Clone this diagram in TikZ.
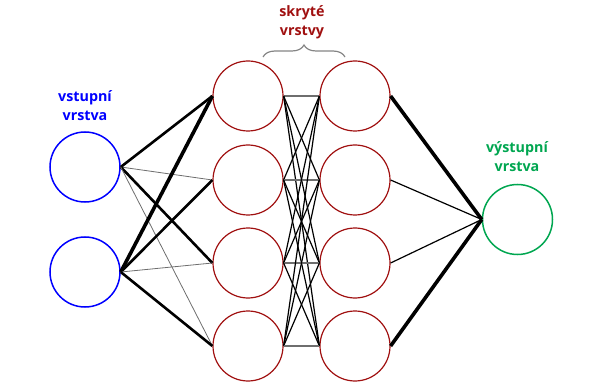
\documentclass[tikz,border=0pt]{standalone}
\usepackage{fontspec}
\setmainfont{Open Sans}
\usetikzlibrary{decorations.pathreplacing}
\definecolor{inblue}{RGB}{0,0,255}
\definecolor{hidred}{RGB}{160,16,16}
\definecolor{outgreen}{RGB}{0,166,80}
\definecolor{linegray}{RGB}{110,110,110}
\begin{document}
\begin{tikzpicture}[x=1pt,y=-1pt,
  neuron/.style={circle,minimum size=70pt,inner sep=0pt,line width=1.5pt},
  lbl/.style={font=\bfseries\fontsize{14.3}{19}\selectfont,align=center},
  wthin/.style={line width=0.8pt,draw=linegray},
  wmid/.style={line width=1.2pt},
  wthick/.style={line width=2.6pt},
  wvthick/.style={line width=3.6pt}]
\useasboundingbox (0,0) rectangle (605,390);
% input
\node[neuron,draw=inblue] (i1) at (85,167) {};
\node[neuron,draw=inblue] (i2) at (85,272) {};
% hidden layers
\foreach \k/\y in {1/96,2/180,3/263,4/346}{
  \node[neuron,draw=hidred,line width=1.2pt] (a\k) at (248,\y) {};
  \node[neuron,draw=hidred,line width=1.2pt] (b\k) at (355,\y) {};
}
% output
\node[neuron,draw=outgreen] (o) at (517.5,219.5) {};
% labels
\node[lbl,text=inblue] (li) at (85,106) {vstupní\\vrstva};
\node[lbl,text=hidred] (lh) at (302,22) {skryté\\vrstvy};
\node[lbl,text=outgreen] (lo) at (517,157) {výstupní\\vrstva};
% brace
\coordinate (bl) at (263,57);
\coordinate (br) at (345,57);
\draw[linegray!85,line width=1.2pt,decorate,decoration={brace,amplitude=12pt,aspect=0.5}] (bl) -- (br);
% input -> hidden1
\draw[wthick] (i1.east) -- (a1.west);
\draw[wthin] (i1.east) -- (a2.west);
\draw[wthick] (i1.east) -- (a3.west);
\draw[wthin] (i1.east) -- (a4.west);
\draw[wvthick] (i2.east) -- (a1.west);
\draw[wthick] (i2.east) -- (a2.west);
\draw[wthin] (i2.east) -- (a3.west);
\draw[wthick] (i2.east) -- (a4.west);
% hidden1 -> hidden2
\foreach \p in {1,...,4}{
  \foreach \q in {1,...,4}{
    \ifnum\p=\q
      \draw[line width=1.2pt,draw=linegray] (a\p.east) -- (b\q.west);
    \else
      \draw[wmid] (a\p.east) -- (b\q.west);
    \fi
  }
}
% hidden2 -> output
\draw[wvthick] (b1.east) -- (o.west);
\draw[wmid] (b2.east) -- (o.west);
\draw[wmid] (b3.east) -- (o.west);
\draw[wvthick] (b4.east) -- (o.west);
\end{tikzpicture}
\end{document}
